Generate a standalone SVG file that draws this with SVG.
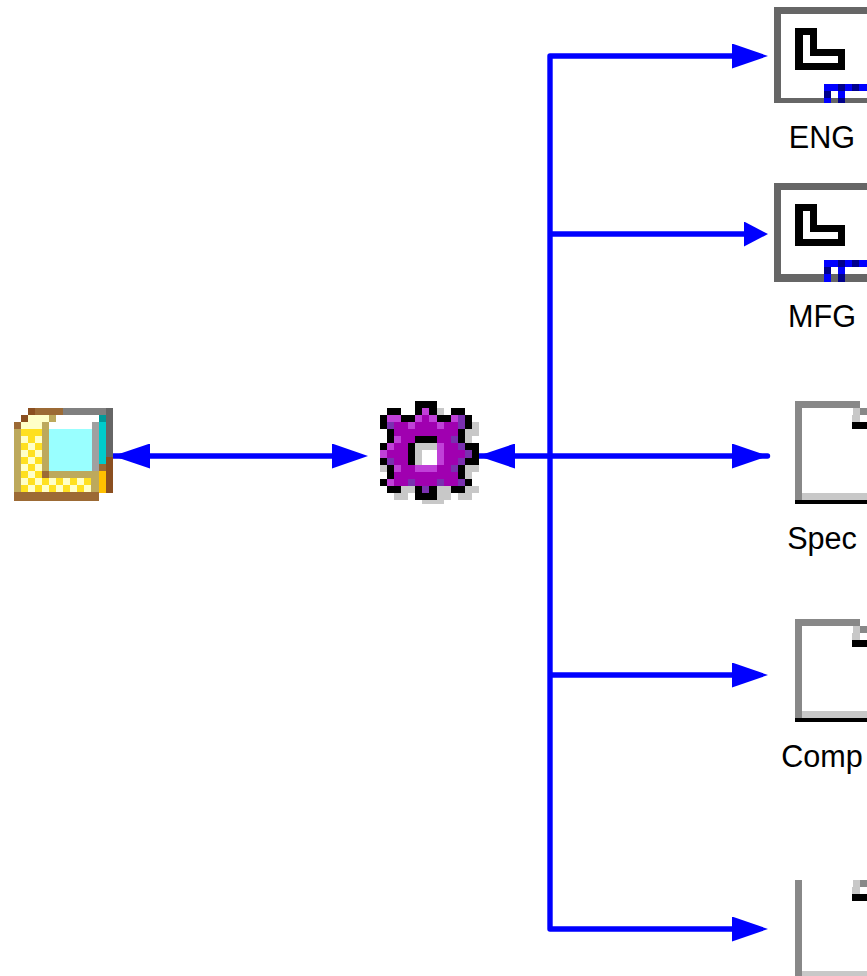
<svg xmlns="http://www.w3.org/2000/svg" width="867" height="976" viewBox="0 0 867 976">
<style>
text{font-family:"Liberation Sans",Arial,sans-serif;font-size:30.6px;fill:#000;text-anchor:middle}
.ln{fill:none;stroke:#0000ff;stroke-width:5.4}
.rc{stroke-linecap:round}
.hd{fill:none;stroke:none}
.gd{fill:#888}.gl{fill:#c8c8c8}.bk{fill:#000}.bl{fill:#00f}.db{fill:#00008b}.fr{fill:#666}
.px{shape-rendering:crispEdges}
</style>
<defs>
<marker id="a" markerUnits="userSpaceOnUse" markerWidth="38" markerHeight="26" refX="36" refY="12.5" orient="auto"><path d="M0 0L36 12.5L0 25z" fill="#00f"/></marker>
<marker id="b" markerUnits="userSpaceOnUse" markerWidth="26" markerHeight="26" refX="24" refY="12.5" orient="auto"><path d="M0 0L24 12.5L0 25z" fill="#00f"/></marker>
<marker id="c" markerUnits="userSpaceOnUse" markerWidth="38" markerHeight="26" refX="0" refY="12.5" orient="auto"><path d="M0 12.5L37 0V25z" fill="#00f"/></marker>
<g id="dk"><path class="gd" d="M795 401h65v7h7v7h-7v-7h-58v92h-7z"/><path class="gl" d="M853 408h7v7h-7zM852 415h8v7h-8zM802 493h65v7h-65z"/><path class="bk" d="M852 422h15v7h-15zM795 500h72v4h-72z"/></g>
<path id="ell" fill-rule="evenodd" class="bk" d="M795 28h22v21h28v21h-50zM803 35v28h35v-7h-28v-21z"/>
</defs>
<g id="connectors">
<path class="ln rc" d="M113.5 456H345"/>
<path class="hd" d="M340 456H368" marker-end="url(#a)"/>
<path class="hd" d="M113 456H150" marker-start="url(#c)"/>
<path class="ln rc" d="M477.5 456H767.5"/>
<path class="hd" d="M740 456H768" marker-end="url(#a)"/>
<path class="hd" d="M478 456H515" marker-start="url(#c)"/>
<path class="ln" stroke-linejoin="round" d="M745 56H550V929H745"/>
<path class="hd" d="M740 56H768" marker-end="url(#a)"/>
<path class="hd" d="M740 929H768" marker-end="url(#a)"/>
<path class="ln" d="M550 234H755"/>
<path class="hd" d="M750 234H768" marker-end="url(#b)"/>
<path class="ln" d="M550 675H745"/>
<path class="hd" d="M740 675H768" marker-end="url(#a)"/>
</g>
<g id="folder" class="px">
<path fill="#8b4f20" d="M28 408h7v7h-7zM21 415h7v7h-7zM106 457h7v36h-7z"/>
<path fill="#9c6a35" d="M35 408h28v7h-28zM14 422h7v7h-7zM14 492h85v9h-85zM99 464h7v7h-7zM42 471h7v7h-7z"/>
<path fill="#808080" d="M63 408h43v7h-43z"/>
<path fill="#666" d="M106 408h7v49h-7z"/>
<path fill="#ffffc8" d="M28 415h21v7h-21zM21 422h21v7h-21zM21 436h7v7h-7zM35 436h7v7h-7zM28 443h7v7h-7zM21 450h7v7h-7zM35 450h7v7h-7zM28 457h7v7h-7zM21 464h7v7h-7zM35 464h7v7h-7zM28 471h7v7h-7zM21 478h7v7h-7zM35 478h7v7h-7zM49 478h7v7h-7zM63 478h7v7h-7zM77 478h7v7h-7zM28 485h7v7h-7zM42 485h7v7h-7zM56 485h7v7h-7zM70 485h7v7h-7zM84 485h7v7h-7z"/>
<path fill="#ffe020" d="M21 429h21v7h-21zM28 436h7v7h-7zM21 443h7v7h-7zM35 443h7v7h-7zM28 450h7v7h-7zM21 457h7v7h-7zM35 457h7v7h-7zM28 464h7v7h-7zM21 471h7v7h-7zM35 471h7v7h-7zM28 478h7v7h-7zM42 478h7v7h-7zM56 478h7v7h-7zM70 478h7v7h-7zM84 478h7v7h-7zM21 485h7v7h-7zM35 485h7v7h-7zM49 485h7v7h-7zM63 485h7v7h-7zM77 485h7v7h-7z"/>
<path fill="#bda95c" d="M49 415h7v7h-7zM14 429h7v63h-7zM42 422h7v49h-7zM49 471h50v7h-50zM91 478h8v14h-8z"/>
<path fill="#fff" d="M56 415h43v7h-7v7h-43v-7h7z"/>
<path fill="#9ff" d="M49 429h43v42h-43z"/>
<path fill="#a0a0a0" d="M92 422h7v49h-7z"/>
<path fill="#009a9a" d="M99 415h7v7h-7z"/>
<path fill="#0cc" d="M99 422h7v42h-7z"/>
<path fill="#ffc000" d="M99 471h7v22h-7z"/>
</g>
<g id="gear" class="px" transform="translate(380 401) scale(7.07)">
<path class="gl" d="M8 1h1v1h-1zM13 3h1v1h-1zM12 4h2v1h-2zM12 5h1v1h-1zM0 9h1v1h-1zM12 9h2v1h-2zM12 10h1v1h-1zM3 12h2v1h-2zM8 12h2v1h-2zM12 12h2v1h-2zM2 13h2v1h-2zM8 13h2v1h-2zM11 13h2v1h-2zM6 14h3v.5h-3z"/>
<path class="bk" d="M5 0h3v1h-3zM1 1h2v1h-2zM5 1h1v1h-1zM7 1h1v1h-1zM10 1h2v1h-2zM0 2h1v2h-1zM3 2h2v1h-2zM8 2h2v1h-2zM12 2h1v2h-1zM1 4h1v2h-1zM11 4h1v2h-1zM5 5h3v1h-3zM0 6h1v1h-1zM4 6h1v3h-1zM12 6h2v1h-2zM13 7h1v1h-1zM0 8h1v1h-1zM12 8h2v1h-2zM1 9h1v2h-1zM11 9h1v2h-1zM0 11h1v1h-1zM12 11h1v1h-1zM1 12h2v1h-2zM5 12h1v1h-1zM7 12h1v1h-1zM10 12h2v1h-2zM5 13h3v1h-3z"/>
<path fill="#a000b0" d="M6 2h1v1h-1zM2 3h2v1h-2zM5 3h3v1h-3zM9 3h2v1h-2zM2 4h9v1h-9zM3 5h2v1h-2zM8 5h2v1h-2zM2 6h2v1h-2zM9 6h2v1h-2zM1 7h3v1h-3zM9 7h3v1h-3zM2 8h2v1h-2zM9 8h2v1h-2zM3 9h2v1h-2zM8 9h2v1h-2zM2 10h9v1h-9zM2 11h2v1h-2zM5 11h3v1h-3zM9 11h2v1h-2z"/>
<path fill="#c040d8" d="M6 1h1v1h-1zM1 2h2v1h-2zM5 2h1v1h-1zM7 2h1v1h-1zM10 2h1v1h-1zM4 3h1v1h-1zM8 3h1v1h-1zM2 5h1v1h-1zM1 6h1v1h-1zM8 6h1v3h-1zM0 7h1v1h-1zM2 9h1v1h-1zM5 9h3v1h-3zM1 11h1v1h-1z"/>
<path fill="#7a30b0" d="M11 2h1v2h-1zM1 3h1v1h-1zM10 5h1v1h-1zM11 6h1v1h-1zM12 7h1v1h-1zM1 8h1v1h-1zM11 8h1v1h-1zM10 9h1v1h-1zM4 11h1v1h-1zM8 11h1v1h-1zM11 11h1v1h-1zM6 12h1v1h-1z"/>
<path fill="#c8c8c8" d="M5 6h3v1h-3zM5 7h1v2h-1z"/>
<path fill="#fff" d="M6 7h2v2h-2z"/>
</g>
<g id="eng"><path class="fr" fill-rule="evenodd" d="M774 7h93v96h-93zM781 14v84h86v-84z"/><use href="#ell"/><path fill="#fff" d="M831 91h36v7h-36z"/><path class="bl" d="M824 84h43v7h-43zM824 98h7v5h-7zM838 91h7v7h-7z"/><path class="db" d="M824 91h7v7h-7zM838 84h7v7h-7zM838 98h7v5h-7zM852 84h7v7h-7z"/><text x="822" y="148">ENG</text></g>
<g id="mfg"><path class="fr" fill-rule="evenodd" d="M774 183h93v99h-93zM781 190v84h86v-84z"/><use href="#ell" y="176"/><path class="bl" d="M824 260h43v7h-43zM824 274h7v8h-7zM838 267h7v7h-7z"/><path class="db" d="M824 267h7v7h-7zM838 260h7v7h-7zM838 274h7v8h-7zM852 260h7v7h-7z"/><text x="822" y="327">MFG</text></g>
<g id="spec"><use href="#dk"/><text x="822" y="549">Spec</text></g>
<g id="comp"><use href="#dk" y="218"/><text x="822" y="767">Comp</text></g>
<g id="doc5"><path class="gd" d="M795 880h7v96h-7zM860 880h7v7h-7z"/><path class="gl" d="M853 880h7v7h-7zM852 887h8v7h-8zM802 971h65v5h-65z"/><path class="bk" d="M852 894h15v7h-15z"/></g>
</svg>
